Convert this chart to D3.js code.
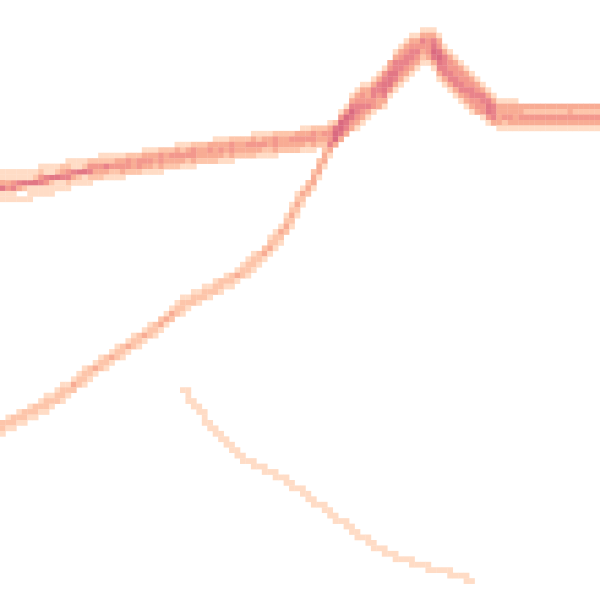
<!DOCTYPE html>
<html>
<head>
<meta charset="utf-8">
<script src="https://cdn.jsdelivr.net/npm/d3@7"></script>
<style>
  html, body { margin: 0; padding: 0; background: #fff; }
  svg { display: block; }
</style>
</head>
<body>
<svg id="chart" width="600" height="600"></svg>
<script>
// ---- data (x = day, y = value) ----
const daysA = [0, 6, 12, 20, 30, 40, 50, 60, 67, 69, 72, 76, 80, 83, 86, 89, 93, 96, 99, 106, 114, 120];
const lineA1 = [85.0, 85.8, 87.0, 88.4, 89.6, 91.2, 92.6, 93.8, 95.0, 98.0, 101.8, 104.8, 109.8, 112.8, 114.4, 109.6, 105.6, 102.8, 99.8, 98.8, 99.0, 98.8];
const lineA2 = [82.9, 83.7, 85.1, 87.0, 88.6, 90.2, 91.6, 92.8, 94.0, 96.6, 100.0, 103.0, 108.0, 111.0, 112.6, 107.8, 103.8, 101.2, 98.5, 97.6, 97.8, 97.6];
const lineA3 = [82.6, 83.4, 84.8, 86.5, 88.0, 89.6, 91.0, 92.2, 93.4, 95.9, 99.2, 102.2, 107.2, 110.2, 111.8, 107.0, 103.0, 100.4, 97.7, 96.9, 97.1, 96.9];
const lineA4 = [82.4, 83.2, 84.6, 86.0, 87.3, 88.9, 90.3, 91.5, 92.7, 95.2, 98.4, 101.4, 106.4, 109.4, 111.0, 106.2, 102.2, 99.6, 97.0, 96.2, 96.4, 96.2];
const lineA5 = [82.3, 83.1, 84.5, 85.7, 86.9, 88.5, 89.9, 91.1, 92.3, 94.6, 97.6, 100.6, 105.6, 108.6, 110.2, 105.4, 101.4, 98.8, 96.3, 95.6, 95.8, 95.6];
const lineA6 = [80.0, 80.8, 82.4, 84.4, 85.9, 87.5, 88.9, 90.1, 91.3, 93.2, 95.8, 98.8, 103.8, 106.8, 108.4, 103.6, 99.6, 97.2, 95.0, 94.4, 94.6, 94.4];
const lineA7 = [83.8, 84.6, 86.0, 87.6, 89.1, 90.7, 92.1, 93.3, 94.5, 97.2, 100.8, 103.8, 108.8, 111.8, 113.4, 108.6, 104.6, 101.9, 99.1, 98.2, 98.4, 98.2];
const lineA8 = [81.4, 82.2, 83.6, 85.1, 86.4, 88.0, 89.4, 90.6, 91.8, 94.0, 96.8, 99.8, 104.8, 107.8, 109.4, 104.6, 100.6, 98.1, 95.7, 95.0, 95.2, 95.0];
const lineA9 = [82.8, 83.6, 85.0, 86.4, 87.6, 89.2, 90.6, 91.8, 93.0, 96.0, 99.6, 102.6, 107.6, 110.6, 112.2, 107.4, 103.4, 100.8, 98.1, 97.2, 97.4, 97.2];
const lineA10 = [82.5, 83.3, 84.7, 86.6, 88.3, 89.9, 91.3, 92.5, 93.7, 95.2, 98.0, 101.0, 106.0, 109.0, 110.6, 105.8, 101.8, 99.2, 96.7, 96.0, 96.2, 96.0];

const daysB = [0, 8, 14, 20, 26, 32, 37, 43, 49, 53, 56, 58, 60, 62, 65, 67, 69, 72, 76, 80, 83, 86, 89, 93, 96, 99, 106, 114, 120];
const lineB1 = [35.2, 39.2, 43.2, 47.8, 51.8, 55.8, 60.2, 63.2, 66.6, 70.4, 73.6, 77.2, 80.8, 83.6, 89.2, 93.4, 97.2, 100.8, 103.8, 108.8, 111.8, 113.4, 108.6, 104.6, 102.0, 99.2, 98.2, 98.4, 98.2];
const lineB2 = [34.4, 38.4, 42.4, 47.0, 51.0, 55.0, 59.4, 62.4, 65.8, 69.6, 72.8, 76.4, 80.0, 83.0, 88.6, 92.4, 95.5, 98.7, 101.7, 106.7, 109.7, 111.3, 106.5, 102.5, 99.9, 97.3, 96.5, 96.7, 96.5];
const lineB3 = [33.6, 37.6, 41.6, 46.2, 50.2, 54.2, 58.6, 61.6, 65.0, 68.8, 72.0, 75.6, 79.2, 82.4, 88.0, 91.6, 94.0, 96.8, 99.8, 104.8, 107.8, 109.4, 104.6, 100.6, 98.0, 95.6, 95.0, 95.2, 95.0];

const daysC = [37, 38.6, 40.6, 42, 44, 46, 48.6, 52, 54, 56.4, 60, 64, 70, 76, 82, 88, 94];
const lineC1 = [41.8, 39.6, 37.4, 35.0, 32.4, 30.6, 28.6, 26.8, 25.6, 24.4, 22.0, 19.0, 14.4, 10.4, 7.6, 6.0, 4.0];

const series = [
  { days: daysA, values: lineA1 }, { days: daysA, values: lineA2 }, { days: daysA, values: lineA3 },
  { days: daysA, values: lineA4 }, { days: daysA, values: lineA5 }, { days: daysA, values: lineA6 },
  { days: daysA, values: lineA7 }, { days: daysA, values: lineA8 }, { days: daysA, values: lineA9 },
  { days: daysA, values: lineA10 },
  { days: daysB, values: lineB1 }, { days: daysB, values: lineB2 }, { days: daysB, values: lineB3 },
  { days: daysC, values: lineC1 }
];

// ---- layout ----
const width = 600, height = 600;
const nBins = 110;
const x = d3.scaleLinear().domain([0, 120]).range([0, width]);
const y = d3.scaleLinear().domain([0, 120]).range([height, 0]);
const cw = width / nBins, ch = height / nBins;

// ---- rasterize each line into density bins (each line counts once per cell) ----
const counts = new Map();
for (const s of series) {
  const pts = s.days.map((d, i) => [x(d), y(s.values[i])]);
  const seen = new Set();
  const yAt = px => {
    for (let i = 0; i < pts.length - 1; i++) {
      const [ax, ay] = pts[i], [bx, by] = pts[i + 1];
      if (px >= ax && px <= bx) return ay + (by - ay) * (px - ax) / (bx - ax || 1);
    }
    return null;
  };
  const xmin = pts[0][0], xmax = pts[pts.length - 1][0];
  for (let c = 0; c < nBins; c++) {
    const x0 = Math.max(c * cw, xmin), x1 = Math.min((c + 1) * cw, xmax);
    if (x1 < x0) continue;
    const ys = [yAt(x0), yAt(x1)];
    pts.forEach(p => { if (p[0] > x0 && p[0] < x1) ys.push(p[1]); });
    const r0 = Math.floor(d3.min(ys) / ch), r1 = Math.floor(d3.max(ys) / ch);
    for (let r = r0; r <= r1; r++) {
      const k = c + "," + r;
      if (!seen.has(k)) { seen.add(k); counts.set(k, (counts.get(k) || 0) + 1); }
    }
  }
}
const cells = Array.from(counts, ([k, n]) => { const [c, r] = k.split(",").map(Number); return { c, r, n }; });

const color = d3.scaleLinear()
  .domain([1, 2, 3, 4, 5, 7])
  .range(["#ffdcc6", "#fdc5aa", "#f8ac94", "#f3988d", "#e9838a", "#da6a80"])
  .clamp(true);

const svg = d3.select("#chart");
svg.append("g")
  .selectAll("rect")
  .data(cells)
  .join("rect")
  .attr("x", d => d.c * cw)
  .attr("y", d => d.r * ch)
  .attr("width", cw + 0.3)
  .attr("height", ch + 0.3)
  .attr("fill", d => color(d.n));
</script>
</body>
</html>
